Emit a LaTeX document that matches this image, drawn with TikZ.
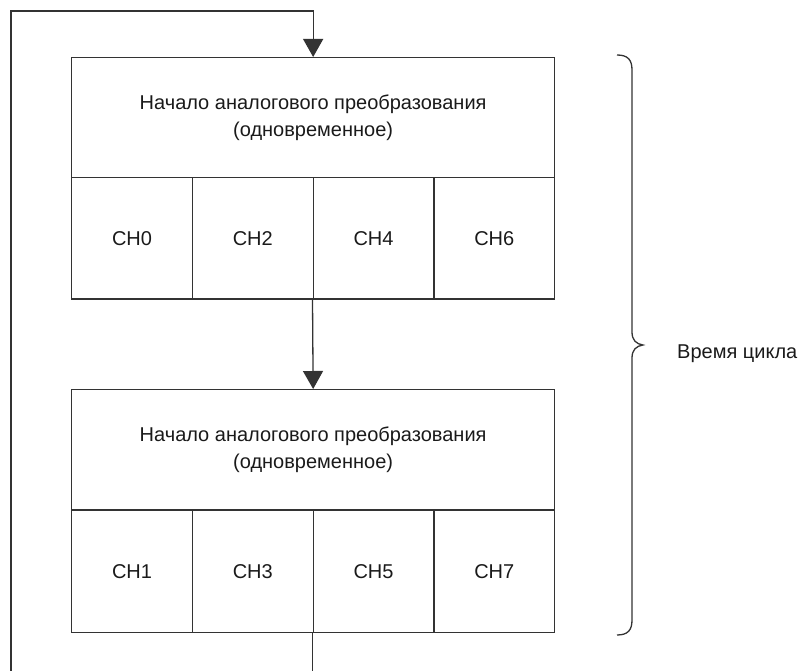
\documentclass[tikz,border=0pt]{standalone}
\usepackage{fontspec}
\setmainfont{Liberation Sans}
\usetikzlibrary{arrows.meta}
\definecolor{linegray}{HTML}{333333}
\definecolor{textgray}{HTML}{1A1A1A}
\begin{document}
\begin{tikzpicture}[x=1pt,y=-1pt,
  ln/.style={draw=linegray, line width=1.3pt},
  hdr/.style={ln, rectangle, minimum width=483pt, minimum height=120pt, inner sep=0pt,
    anchor=north west, align=center, text=textgray, font=\fontsize{20}{27}\selectfont},
  cell/.style={ln, rectangle, minimum width=120.75pt, minimum height=121.5pt, inner sep=0pt,
    anchor=north west, text=textgray, font=\fontsize{20}{24}\selectfont},
  arr/.style={ln, -{Triangle[width=20pt,length=18pt]}},
  lbl/.style={anchor=west, inner sep=0pt, text=textgray, font=\fontsize{20}{24}\selectfont}]
\useasboundingbox (0,0) rectangle (804,671);

% top group
\node[hdr] (h1) at (71,57) {Начало аналогового преобразования\\(одновременное)};
\node[cell] (c0) at (71,177) {CH0};
\node[cell] (c2) at (191.75,177) {CH2};
\node[cell] (c4) at (312.5,177) {CH4};
\node[cell] (c6) at (433.25,177) {CH6};

% bottom group
\node[hdr] (h2) at (71,389) {Начало аналогового преобразования\\(одновременное)};
\node[cell] (c1) at (71,510) {CH1};
\node[cell] (c3) at (191.75,510) {CH3};
\node[cell] (c5) at (312.5,510) {CH5};
\node[cell] (c7) at (433.25,510) {CH7};

% connectors
\coordinate (loopstart) at (11,671);
\coordinate (loopend) at (312.5,671);
\draw[arr] (loopstart) -- (11,11) -| (h1.north);
\draw[arr] (c4.south west) -- (h2.north);
\draw[ln] (c5.south west) -- (loopend);

% brace
\draw[ln] (617,55) .. controls (628,55) and (632,60) .. (632,70) -- (632,332)
  .. controls (632,340) and (636,344) .. (643,345)
  .. controls (636,346) and (632,350) .. (632,358) -- (632,620)
  .. controls (632,630) and (628,635) .. (617,635);
\node[lbl] (cyc) at (677,354) {Время цикла};
\end{tikzpicture}
\end{document}
